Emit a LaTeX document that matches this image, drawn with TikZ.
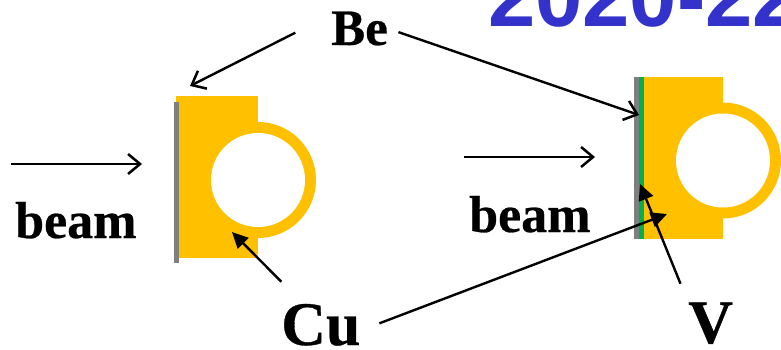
\documentclass[tikz,border=0pt]{standalone}
\usepackage{fontspec}
\setmainfont{Liberation Serif}[BoldFeatures={FakeBold=0.5}]
\newfontfamily\titlefont{Liberation Sans}
\usetikzlibrary{arrows.meta,positioning,calc}
\definecolor{cuyellow}{HTML}{FFC000}
\definecolor{begray}{HTML}{7F7F7F}
\definecolor{vgreen}{HTML}{00B050}
\definecolor{titleblue}{HTML}{3333CC}

\begin{document}
\begin{tikzpicture}[x=1pt,y=-1pt]
    \tikzset{partlabel/.style={anchor=base west,inner sep=0pt,font=\bfseries\fontsize{#1}{#1}\selectfont}, openarrow/.style={-{Straight Barb[length=12pt,width=20pt,line width=2.5pt]},line width=2.4pt,black}, solidarrow/.style={-{Triangle[length=16pt,width=15pt]},line width=2.4pt,black}}
    \useasboundingbox (0,0) rectangle (781,350);
    \clip (0,0) rectangle (781,350);
    \node[anchor=base west,inner sep=0pt,text=titleblue,font=\titlefont\bfseries\fontsize{85}{85}\selectfont] (title) at (488,27) {2020-22};
    % left target
    \fill[cuyellow] (176,96) rectangle (258,258);
    \fill[cuyellow] (258,180) circle[radius=58];
    \fill[white] (258,180) circle[radius=47];
    \fill[begray] (174,102) rectangle (178.5,263);
    % right target
    \fill[cuyellow] (643,77) rectangle (723,239);
    \fill[cuyellow] (723,160.5) circle[radius=58];
    \fill[white] (723,160.5) circle[radius=47];
    \fill[begray] (634,77) rectangle (639,239);
    \fill[vgreen] (639,77) rectangle (643.5,239);
    % labels
    \node[partlabel=51] (be) at (331,45) {Be};
    \node[partlabel=52] (beamleft) at (15,238) {beam};
    \node[partlabel=52] (beamright) at (469,232) {beam};
    \node[partlabel=62] (cu) at (281,345) {Cu};
    \node[partlabel=62] (vlabel) at (688,343) {V};
    % free ends
    \coordinate (beamleftstart) at (11,164);
    \coordinate (beamlefttip) at (142,164);
    \coordinate (beamrightstart) at (464,157);
    \coordinate (beamrighttip) at (595,157);
    \coordinate (beleft) at (190,86);
    \coordinate (beright) at (639,115);
    \coordinate (culeft) at (232,232);
    \coordinate (curight) at (667,214);
    \coordinate (vtip) at (640,184);
    \draw[openarrow] (beamleftstart) -- (beamlefttip);
    \draw[openarrow] (beamrightstart) -- (beamrighttip);
    \draw[openarrow,shorten <=40pt] (be.154) -- (beleft);
    \draw[openarrow,shorten <=11pt] (be.east) -- (beright);
    \draw[solidarrow,shorten <=31pt] (cu.130) -- (culeft);
    \draw[solidarrow,shorten <=20pt] (cu.-8) -- (curight);
    \draw[solidarrow,shorten <=20pt] (vlabel.north west) -- (vtip);
  \end{tikzpicture}
\end{document}
